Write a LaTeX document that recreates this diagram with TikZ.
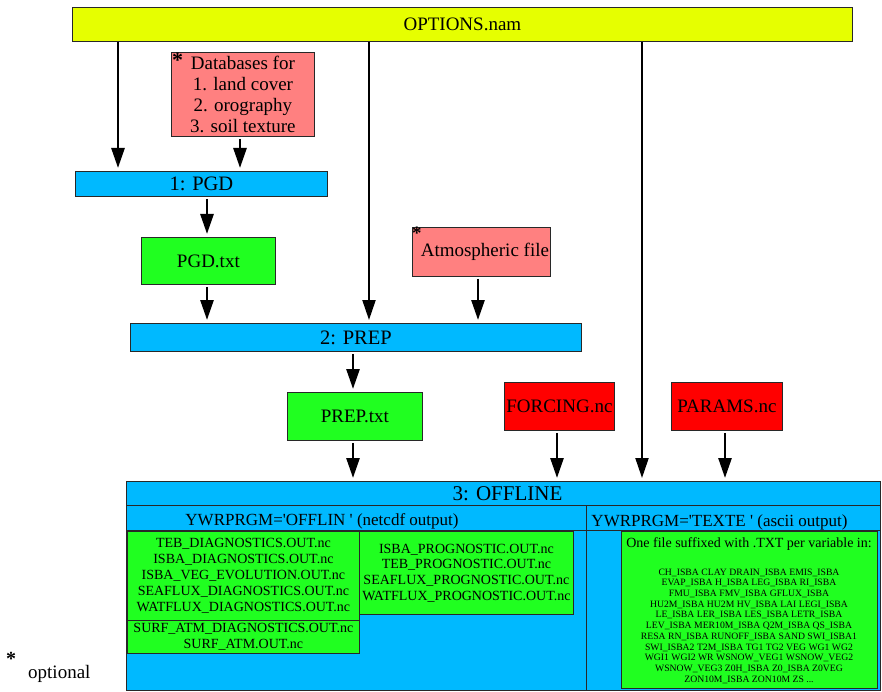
\documentclass[tikz,border=0pt]{standalone}
\usepackage{fontspec}
\setmainfont{Liberation Serif}
\usetikzlibrary{arrows.meta}
\definecolor{optc}{RGB}{230,255,0}
\definecolor{pinkc}{RGB}{255,128,128}
\definecolor{bluec}{RGB}{0,185,255}
\definecolor{greenc}{RGB}{32,255,32}
\definecolor{redc}{RGB}{255,0,0}
\definecolor{edgec}{RGB}{40,40,40}
\newcommand{\fsz}[2]{\fontsize{#1}{#2}\selectfont}
\begin{document}
\begin{tikzpicture}[x=1pt,y=-1pt,
  box/.style={draw=edgec, line width=0.8pt, anchor=north west, inner sep=0pt, align=center},
  arr/.style={line width=2.7pt, -{Triangle[length=20pt,width=13pt]}, shorten <=2pt, shorten >=3pt},
  longarr/.style={line width=2.1pt, -{Triangle[length=20pt,width=13pt]}, shorten >=3pt},
  star/.style={font=\bfseries\fsz{22}{22}, anchor=north west, inner sep=0pt},
  sep/.style={draw=edgec, line width=0.8pt}
]
\useasboundingbox (0,0) rectangle (882,692);

% top
\node[box, fill=optc, minimum width=780pt, minimum height=34pt, font=\fsz{19}{21}] (opt) at (72,7) {OPTIONS.nam};

% databases
\node[box, fill=pinkc, minimum width=143pt, minimum height=84pt, font=\fsz{19}{21.3}] (db) at (171,52)
  {Databases for\\1. land cover\\2. orography\\3. soil texture};
\node[star] (dbstar) at (172,53) {*};

% PGD
\node[box, fill=bluec, minimum width=252pt, minimum height=25pt, font=\fsz{20.5}{22}] (pgd) at (75,171) {1: PGD};
\node[box, fill=greenc, minimum width=134pt, minimum height=47pt, font=\fsz{19}{21}] (pgdtxt) at (141,237) {PGD.txt};

% atmospheric file
\node[box, fill=pinkc, minimum width=138pt, minimum height=49pt, font=\fsz{19}{21}] (atm) at (412,227) {\hspace{7pt}Atmospheric file};
\node[star, font=\bfseries\fsz{19}{19}] (atmstar) at (412,227) {*};

% PREP
\node[box, fill=bluec, minimum width=451pt, minimum height=28pt, font=\fsz{20.5}{22}] (prep) at (130,323) {2: PREP};
\node[box, fill=greenc, minimum width=135pt, minimum height=48pt, font=\fsz{19}{21}] (preptxt) at (287,392) {PREP.txt};
\node[box, fill=redc, minimum width=110pt, minimum height=48pt, font=\fsz{19}{21}] (forc) at (504,382) {FORCING.nc};
\node[box, fill=redc, minimum width=111pt, minimum height=48pt, font=\fsz{19}{21}] (params) at (671,382) {PARAMS.nc};

% OFFLINE
\node[box, fill=bluec, minimum width=754pt, minimum height=209pt] (off) at (126,481) {};
\draw[sep] (off.west |- 0,505) -- (off.east |- 0,505);
\draw[sep] (off.west |- 0,530) -- (off.east |- 0,530);
\draw[sep] (586,505) -- (586,0 |- off.south);
\node[font=\fsz{21}{23}, anchor=base, inner sep=0pt] (offt) at (507.5,500.5) {3: OFFLINE};
\node[font=\fsz{17}{19}, anchor=base, inner sep=0pt] (h1) at (322,525)
  {YWRPRGM=\textquotesingle OFFLIN \textquotesingle{} (netcdf output)};
\node[font=\fsz{17}{19}, anchor=base, inner sep=0pt] (h2) at (719.5,526)
  {YWRPRGM=\textquotesingle TEXTE \textquotesingle{} (ascii output)};

\node[box, fill=greenc, minimum width=232pt, minimum height=89pt, font=\fsz{14}{16}] (g1) at (127,531)
  {TEB\_DIAGNOSTICS.OUT.nc\\ISBA\_DIAGNOSTICS.OUT.nc\\ISBA\_VEG\_EVOLUTION.OUT.nc\\SEAFLUX\_DIAGNOSTICS.OUT.nc\\WATFLUX\_DIAGNOSTICS.OUT.nc};
\node[box, fill=greenc, minimum width=232pt, minimum height=33pt, font=\fsz{14}{16.5}] (g2) at (127,620)
  {SURF\_ATM\_DIAGNOSTICS.OUT.nc\\SURF\_ATM.OUT.nc};
\node[box, fill=greenc, minimum width=214pt, minimum height=83pt, font=\fsz{14}{15.7}] (g3) at (359,531)
  {ISBA\_PROGNOSTIC.OUT.nc\\TEB\_PROGNOSTIC.OUT.nc\\SEAFLUX\_PROGNOSTIC.OUT.nc\\WATFLUX\_PROGNOSTIC.OUT.nc};
\node[box, fill=greenc, minimum width=256pt, minimum height=157pt] (g4) at (621,531) {};
\node[font=\fsz{14}{16}, anchor=base, inner sep=0pt] (g4t) at (749,547) {One file suffixed with .TXT per variable in:};
\node[font=\fsz{9.7}{10.7}, align=center, anchor=north, inner sep=0pt] (g4l) at (749,568.5)
  {CH\_ISBA CLAY DRAIN\_ISBA EMIS\_ISBA\\
   EVAP\_ISBA H\_ISBA LEG\_ISBA RI\_ISBA\\
   FMU\_ISBA FMV\_ISBA GFLUX\_ISBA\\
   HU2M\_ISBA HU2M HV\_ISBA LAI LEGI\_ISBA\\
   LE\_ISBA LER\_ISBA LES\_ISBA LETR\_ISBA\\
   LEV\_ISBA MER10M\_ISBA Q2M\_ISBA QS\_ISBA\\
   RESA RN\_ISBA RUNOFF\_ISBA SAND SWI\_ISBA1\\
   SWI\_ISBA2 T2M\_ISBA TG1 TG2 VEG WG1 WG2\\
   WGI1 WGI2 WR WSNOW\_VEG1 WSNOW\_VEG2\\
   WSNOW\_VEG3 Z0H\_ISBA Z0\_ISBA Z0VEG\\
   ZON10M\_ISBA ZON10M ZS ...};

% legend
\node[star, font=\bfseries\fsz{20}{20}] (legstar) at (6,652) {*};
\node[font=\fsz{19}{21}, anchor=base west, inner sep=0pt] (legtxt) at (28,678) {optional};

% connectors
\draw[longarr, line width=2.7pt] (opt.south -| 118,0) -- (pgd.north -| 118,0);
\draw[arr] (db.south -| 240,0) -- (pgd.north -| 240,0);
\draw[arr] (pgd.south -| 207,0) -- (pgdtxt.north -| 207,0);
\draw[arr] (pgdtxt.south -| 207,0) -- (prep.north -| 207,0);
\draw[longarr] (opt.south -| 369,0) -- (prep.north -| 369,0);
\draw[arr] (atm.south -| 478,0) -- (prep.north -| 478,0);
\draw[arr] (prep.south -| 353,0) -- (preptxt.north -| 353,0);
\draw[arr] (preptxt.south -| 353,0) -- (off.north -| 353,0);
\draw[arr] (forc.south -| 557,0) -- (off.north -| 557,0);
\draw[longarr] (opt.south -| 642,0) -- (off.north -| 642,0);
\draw[arr] (params.south -| 725,0) -- (off.north -| 725,0);
\end{tikzpicture}
\end{document}
